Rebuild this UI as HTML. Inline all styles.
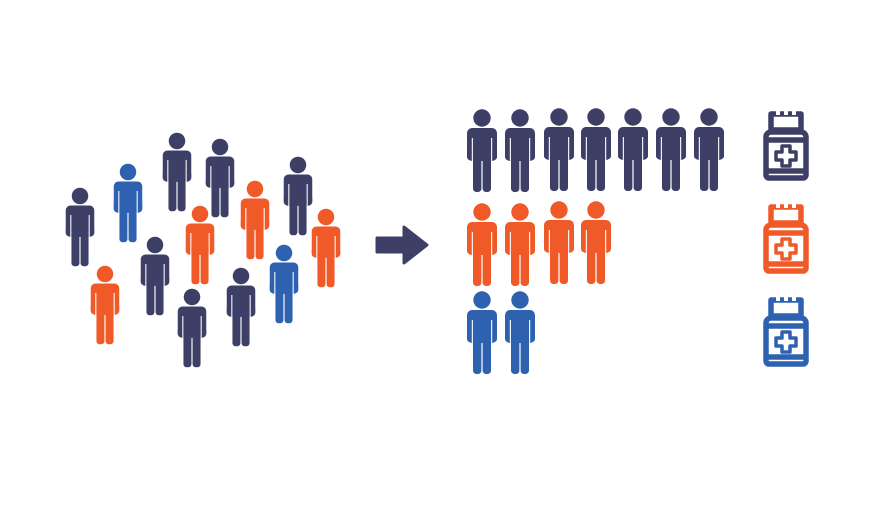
<!DOCTYPE html>
<html><head><style>html,body{margin:0;padding:0;background:#fff}</style></head>
<body>
<svg width="893" height="500" viewBox="0 0 893 500" xmlns="http://www.w3.org/2000/svg">
<defs>
<g id="p">
<circle cx="0" cy="0" r="8.7"/>
<rect x="-15" y="10" width="30" height="33" rx="5"/>
<rect x="-9" y="14" width="8.4" height="60" rx="3.5"/>
<rect x="0.6" y="14" width="8.4" height="60" rx="3.5"/>
<rect x="-15" y="32" width="30" height="10" rx="3"/>
<rect x="-10.2" y="20" width="1.1" height="24" fill="#fff"/>
<rect x="9.1" y="20" width="1.1" height="24" fill="#fff"/>
</g>
<g id="b" fill="none" stroke-width="5.5" stroke-linejoin="round">
<path d="M9,4 h30 v16 h-30 z"/>
<path d="M4,27 a5,5 0 0 1 5,-5 h30 a5,5 0 0 1 5,5 v38 a3,3 0 0 1 -3,3 h-34 a3,3 0 0 1 -3,-3 z"/>
<path d="M4,30 h40 M4,61 h40" />
<path d="M20,36 h8 v6 h6 v8 h-6 v6 h-8 v-6 h-6 v-8 h6 z" stroke-width="3.5"/>
</g>
</defs>
<g fill="#3d3f66">
<use href="#p" transform="translate(80,196) scale(0.95)"/>
<use href="#p" transform="translate(177,141) scale(0.95)"/>
<use href="#p" transform="translate(220,147) scale(0.95)"/>
<use href="#p" transform="translate(298,165) scale(0.95)"/>
<use href="#p" transform="translate(155,245) scale(0.95)"/>
<use href="#p" transform="translate(241,276) scale(0.95)"/>
<use href="#p" transform="translate(192,297) scale(0.95)"/>
</g>
<g fill="#f05a28">
<use href="#p" transform="translate(255,189) scale(0.95)"/>
<use href="#p" transform="translate(200,214) scale(0.95)"/>
<use href="#p" transform="translate(326,217) scale(0.95)"/>
<use href="#p" transform="translate(105,274) scale(0.95)"/>
</g>
<g fill="#2e62b0">
<use href="#p" transform="translate(128,172) scale(0.95)"/>
<use href="#p" transform="translate(284,253) scale(0.95)"/>
</g>
<path d="M377,238 h27 v-11 l23,18 l-23,18 v-11 h-27 z" fill="#3d3f66" stroke="#3d3f66" stroke-width="3" stroke-linejoin="round"/>
<g fill="#3d3f66">
<use href="#p" transform="translate(482,118)"/>
<use href="#p" transform="translate(520,118)"/>
<use href="#p" transform="translate(559,117)"/>
<use href="#p" transform="translate(596,117)"/>
<use href="#p" transform="translate(633,117)"/>
<use href="#p" transform="translate(671,117)"/>
<use href="#p" transform="translate(709,117)"/>
</g>
<g fill="#f05a28">
<use href="#p" transform="translate(482,212)"/>
<use href="#p" transform="translate(520,212)"/>
<use href="#p" transform="translate(559,210)"/>
<use href="#p" transform="translate(596,210)"/>
</g>
<g fill="#2e62b0">
<use href="#p" transform="translate(482,300)"/>
<use href="#p" transform="translate(520,300)"/>
</g>
<use href="#b" stroke="#3d3f66" transform="translate(762,110)"/>
<use href="#b" stroke="#f05a28" transform="translate(762,203)"/>
<use href="#b" stroke="#2e62b0" transform="translate(762,296)"/>
<g fill="#fff">
<rect x="776" y="111" width="4" height="4"/><rect x="784" y="111" width="4" height="4"/><rect x="792" y="111" width="4" height="4"/>
<rect x="776" y="204" width="4" height="4"/><rect x="784" y="204" width="4" height="4"/><rect x="792" y="204" width="4" height="4"/>
<rect x="776" y="297" width="4" height="4"/><rect x="784" y="297" width="4" height="4"/><rect x="792" y="297" width="4" height="4"/>
</g>
</svg>
</body></html>
